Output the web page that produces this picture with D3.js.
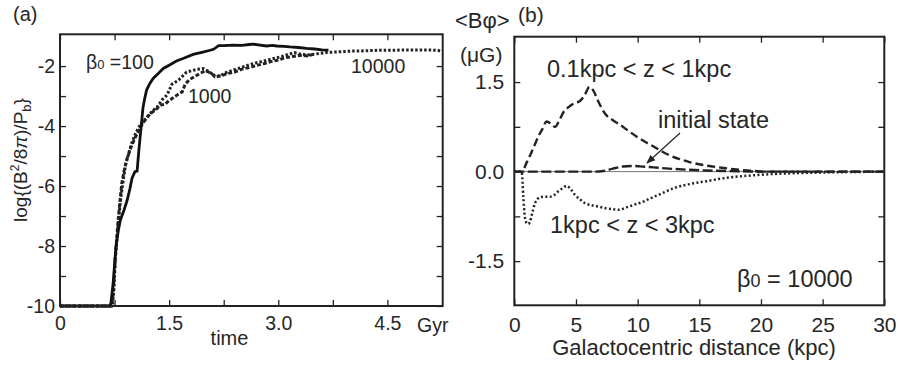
<!DOCTYPE html>
<html>
<head>
<meta charset="utf-8">
<script src="https://cdn.jsdelivr.net/npm/d3@7"></script>
<style>
  html, body { margin: 0; padding: 0; background: #fff; }
  svg { display: block; }
  text { font-family: "Liberation Sans", Arial, Helvetica, sans-serif; fill: #262626; }
</style>
</head>
<body>
<svg id="chart" width="898" height="370"></svg>
<script>
// ---------- Panel (a): growth of magnetic energy ----------
const timeMajorTicks = [0, 1.5, 3.0, 4.5];
const timeMinorTicks = [0.75, 2.25, 3.75];
const logMajorTicks = [-10, -8, -6, -4, -2];
const logMinorTicks = [-9, -7, -5, -3];

// beta0 = 100 (solid)
const timeB100 = [0, 0.68, 0.70, 0.73, 0.77, 0.80, 0.83, 0.88, 0.92, 0.96, 0.99, 1.03, 1.06, 1.08, 1.10, 1.12, 1.14, 1.16, 1.19, 1.23, 1.28, 1.35, 1.42, 1.5, 1.6, 1.7, 1.83, 1.95, 2.05, 2.11, 2.18, 2.25, 2.38, 2.5, 2.6, 2.66, 2.75, 2.84, 2.92, 2.98, 3.08, 3.16, 3.28, 3.39, 3.5, 3.6, 3.69];
const logB100 = [-10, -10, -9.9, -9.25, -8.0, -7.5, -7.13, -6.8, -6.5, -6.1, -5.74, -5.52, -5.5, -4.91, -4.4, -3.91, -3.4, -3.13, -2.8, -2.6, -2.41, -2.25, -2.08, -1.97, -1.83, -1.74, -1.61, -1.54, -1.48, -1.44, -1.32, -1.32, -1.3, -1.31, -1.28, -1.27, -1.3, -1.33, -1.31, -1.33, -1.34, -1.36, -1.38, -1.41, -1.43, -1.46, -1.47];

// beta0 = 1000 (dashed)
const timeB1000 = [0, 0.71, 0.73, 0.76, 0.79, 0.82, 0.85, 0.88, 0.92, 0.97, 1.02, 1.08, 1.14, 1.2, 1.26, 1.32, 1.38, 1.44, 1.5, 1.56, 1.62, 1.68, 1.72, 1.78, 1.85, 1.92, 2.0, 2.08, 2.15, 2.22, 2.3, 2.4, 2.5, 2.6, 2.7, 2.8, 2.9, 3.0, 3.1, 3.2, 3.3, 3.4, 3.5];
const logB1000 = [-10, -10, -9.6, -8.4, -7.4, -6.6, -5.9, -5.5, -5.1, -4.75, -4.45, -4.15, -3.9, -3.7, -3.55, -3.45, -3.3, -3.28, -3.15, -3.05, -2.95, -2.86, -2.6, -2.45, -2.35, -2.25, -2.15, -2.25, -2.35, -2.32, -2.25, -2.2, -2.1, -2.05, -1.98, -1.92, -1.85, -1.8, -1.72, -1.68, -1.64, -1.66, -1.6];

// beta0 = 10000 (dotted)
const timeB10000 = [0, 0.72, 0.74, 0.76, 0.79, 0.81, 0.84, 0.87, 0.9, 0.94, 0.98, 1.03, 1.08, 1.14, 1.2, 1.27, 1.34, 1.4, 1.47, 1.54, 1.63, 1.74, 1.88, 1.97, 2.06, 2.13, 2.2, 2.28, 2.36, 2.45, 2.55, 2.65, 2.75, 2.85, 2.95, 3.05, 3.15, 3.22, 3.3, 3.4, 3.5, 3.65, 3.8, 4.0, 4.2, 4.4, 4.6, 4.8, 5.0, 5.15, 5.26];
const logB10000 = [-10, -10, -9.5, -8.4, -7.6, -7.0, -6.3, -5.8, -5.3, -4.95, -4.6, -4.3, -4.05, -3.85, -3.7, -3.5, -3.35, -3.13, -2.97, -2.6, -2.47, -2.2, -2.11, -2.08, -2.2, -2.36, -2.33, -2.22, -2.15, -2.08, -2.0, -1.92, -1.86, -1.8, -1.74, -1.68, -1.6, -1.55, -1.6, -1.63, -1.6, -1.55, -1.53, -1.5, -1.49, -1.47, -1.47, -1.46, -1.46, -1.47, -1.5];

// ---------- Panel (b): azimuthal field profile ----------
const distMajorTicks = [0, 5, 10, 15, 20, 25, 30];
const bphiMajorTicks = [-1.5, 0.0, 1.5];
const bphiMinorTicks = [-0.75, 0.75];

// 0.1 kpc < z < 1 kpc (dashed)
const distLow = [0, 0.6, 1.0, 1.3, 1.6, 1.95, 2.3, 2.6, 3.0, 3.3, 3.7, 4.0, 4.4, 4.9, 5.3, 5.7, 6.1, 6.4, 6.8, 7.4, 8.0, 8.6, 9.2, 9.9, 10.6, 11.3, 12.4, 13.4, 14.2, 15.6, 17.0, 18.3, 19.5, 20.2, 22, 25, 30];
const bphiLow = [0, 0, 0.15, 0.28, 0.42, 0.59, 0.72, 0.84, 0.8, 0.75, 0.88, 1.0, 1.08, 1.15, 1.18, 1.28, 1.42, 1.36, 1.18, 0.96, 0.86, 0.78, 0.69, 0.59, 0.5, 0.42, 0.29, 0.21, 0.16, 0.1, 0.06, 0.03, 0.01, 0, 0, 0, 0];

// initial state (long dashes)
const distInit = [0, 6.5, 7.2, 8.0, 8.8, 9.5, 10.2, 11.3, 12.9, 14.2, 15.6, 17.5, 19.1, 20, 30];
const bphiInit = [0, 0, 0.01, 0.05, 0.085, 0.095, 0.088, 0.07, 0.045, 0.03, 0.018, 0.008, 0.002, 0, 0];

// 1 kpc < z < 3 kpc (dotted)
const distHigh = [0, 0.6, 0.73, 0.85, 1.0, 1.15, 1.27, 1.45, 1.68, 2.08, 2.5, 2.9, 3.2, 3.57, 3.9, 4.25, 4.6, 4.92, 5.3, 5.73, 6.2, 6.68, 7.3, 8.0, 8.5, 9.1, 9.8, 10.5, 11.0, 11.8, 12.9, 14.2, 15.6, 17, 18.3, 19.5, 21, 23, 25, 27.5, 30];
const bphiHigh = [0, 0, -0.42, -0.75, -0.86, -0.88, -0.84, -0.7, -0.53, -0.43, -0.42, -0.42, -0.4, -0.33, -0.28, -0.24, -0.3, -0.39, -0.46, -0.53, -0.56, -0.58, -0.61, -0.63, -0.64, -0.6, -0.55, -0.5, -0.45, -0.38, -0.28, -0.21, -0.16, -0.11, -0.08, -0.06, -0.04, -0.025, -0.015, -0.007, 0];

const svg = d3.select("#chart");
const zip = (xs, ys) => xs.map((x, i) => [x, ys[i]]);

// Frame with inward ticks on all four sides
function frame(g, x, y, xMajor, xMinor, yMajor, yMinor, xFmt, yFmt, fs, xPad, yPad) {
  const [x0, x1] = x.range();
  const [y0, y1] = y.range();
  const tl = 6;
  g.append("g").attr("transform", `translate(0,${y0})`)
    .call(d3.axisBottom(x).tickValues(xMajor).tickSize(-tl).tickPadding(xPad).tickFormat(xFmt))
    .call(a => a.select(".domain").remove())
    .call(a => a.selectAll("text").attr("font-size", fs).attr("font-family", null).attr("fill", "#262626"));
  g.append("g").attr("transform", `translate(0,${y0})`)
    .call(d3.axisBottom(x).tickValues(xMinor).tickSize(-tl).tickFormat(""))
    .call(a => a.select(".domain").remove());
  g.append("g").attr("transform", `translate(0,${y1})`)
    .call(d3.axisTop(x).tickValues(xMajor.concat(xMinor)).tickSize(-tl).tickFormat(""))
    .call(a => a.select(".domain").remove());
  g.append("g").attr("transform", `translate(${x0},0)`)
    .call(d3.axisLeft(y).tickValues(yMajor).tickSize(-tl).tickPadding(yPad).tickFormat(yFmt))
    .call(a => a.select(".domain").remove())
    .call(a => a.selectAll("text").attr("font-size", fs).attr("font-family", null).attr("fill", "#262626"));
  g.append("g").attr("transform", `translate(${x0},0)`)
    .call(d3.axisLeft(y).tickValues(yMinor).tickSize(-tl).tickFormat(""))
    .call(a => a.select(".domain").remove());
  g.append("g").attr("transform", `translate(${x1},0)`)
    .call(d3.axisRight(y).tickValues(yMajor.concat(yMinor)).tickSize(-tl).tickFormat(""))
    .call(a => a.select(".domain").remove());
  g.selectAll(".tick line").attr("stroke", "#222").attr("stroke-width", 1.3);
  g.append("rect").attr("x", x0).attr("y", y1).attr("width", x1 - x0).attr("height", y0 - y1)
    .attr("fill", "none").attr("stroke", "#222").attr("stroke-width", 2);
}

// ----- Panel (a) -----
const gA = svg.append("g");
const xA = d3.scaleLinear().domain([0, 5.26]).range([60, 442.7]);
const yA = d3.scaleLinear().domain([-10, -0.94]).range([306, 34.3]);
const lineA = d3.line().x(d => xA(d[0])).y(d => yA(d[1]));

gA.append("path").datum(zip(timeB10000, logB10000)).attr("d", lineA)
  .attr("fill", "none").attr("stroke", "#222").attr("stroke-width", 3).attr("stroke-dasharray", "2.5,2");
gA.append("path").datum(zip(timeB1000, logB1000)).attr("d", lineA)
  .attr("fill", "none").attr("stroke", "#222").attr("stroke-width", 3).attr("stroke-dasharray", "4,2");
gA.append("path").datum(zip(timeB100, logB100)).attr("d", lineA)
  .attr("fill", "none").attr("stroke", "#111").attr("stroke-width", 2.8);

frame(gA, xA, yA, timeMajorTicks, timeMinorTicks, logMajorTicks, logMinorTicks,
  d => d === 0 ? "0" : d.toFixed(1), d => d3.format("d")(d).replace("−", "-"), 19.5, 10, 5);

gA.append("text").attr("x", 13).attr("y", 21).attr("font-size", 20).text("(a)");
const b100 = gA.append("text").attr("x", 86).attr("y", 69).attr("font-size", 19.5);
b100.append("tspan").text("β");
b100.append("tspan").attr("font-size", 13).text("0");
b100.append("tspan").text(" =100");
gA.append("text").attr("x", 188).attr("y", 103).attr("font-size", 19.5).text("1000");
gA.append("text").attr("x", 351).attr("y", 73).attr("font-size", 19.5).text("10000");
gA.append("text").attr("x", 229.5).attr("y", 345).attr("font-size", 20).attr("text-anchor", "middle").text("time");
gA.append("text").attr("x", 417).attr("y", 332).attr("font-size", 19.5).text("Gyr");

const yLab = gA.append("text").attr("transform", "translate(27,160) rotate(-90)")
  .attr("text-anchor", "middle").attr("font-size", 19);
yLab.append("tspan").text("log{(B");
yLab.append("tspan").attr("font-size", 12).attr("dy", -8).text("2");
yLab.append("tspan").attr("dy", 8).text("/8");
yLab.append("tspan").attr("font-style", "italic").text("π");
yLab.append("tspan").text(")/P");
yLab.append("tspan").attr("font-size", 13).attr("dy", 4).text("b");
yLab.append("tspan").attr("dy", -4).text("}");

// ----- Panel (b) -----
const gB = svg.append("g");
const xB = d3.scaleLinear().domain([0, 30]).range([514.3, 884.3]);
const yB = d3.scaleLinear().domain([-2.24, 2.26]).range([305.3, 36.7]);
const lineB = d3.line().x(d => xB(d[0])).y(d => yB(d[1])).curve(d3.curveMonotoneX);

gB.append("line").attr("x1", xB(0)).attr("x2", xB(30)).attr("y1", yB(0)).attr("y2", yB(0))
  .attr("stroke", "#777").attr("stroke-width", 1);
gB.append("path").datum(zip(distHigh, bphiHigh)).attr("d", lineB)
  .attr("fill", "none").attr("stroke", "#222").attr("stroke-width", 2.5).attr("stroke-dasharray", "2,2.4");
gB.append("path").datum(zip(distInit, bphiInit)).attr("d", lineB)
  .attr("fill", "none").attr("stroke", "#222").attr("stroke-width", 2.4).attr("stroke-dasharray", "10,3.5");
gB.append("path").datum(zip(distLow, bphiLow)).attr("d", lineB)
  .attr("fill", "none").attr("stroke", "#222").attr("stroke-width", 2.4).attr("stroke-dasharray", "8,4");

frame(gB, xB, yB, distMajorTicks, [], bphiMajorTicks, bphiMinorTicks,
  d => String(d), d => d.toFixed(1).replace("−", "-"), 21, 12, 10);

gB.append("text").attr("x", 455).attr("y", 28).attr("font-size", 22).text("<Bφ>");
gB.append("text").attr("x", 518).attr("y", 22).attr("font-size", 21).text("(b)");
gB.append("text").attr("x", 460).attr("y", 62).attr("font-size", 21).text("(μG)");
gB.append("text").attr("x", 547).attr("y", 77).attr("font-size", 23.5).text("0.1kpc < z < 1kpc");
gB.append("text").attr("x", 658).attr("y", 128).attr("font-size", 23.5).text("initial state");
gB.append("text").attr("x", 550).attr("y", 233).attr("font-size", 23.5).text("1kpc < z < 3kpc");
const b0 = gB.append("text").attr("x", 737).attr("y", 287).attr("font-size", 23.5);
b0.append("tspan").text("β");
b0.append("tspan").attr("font-size", 18).text("0");
b0.append("tspan").text(" = 10000");
gB.append("text").attr("x", 694).attr("y", 355).attr("font-size", 22).attr("text-anchor", "middle")
  .text("Galactocentric distance (kpc)");

// pointer from the "initial state" label to its curve
svg.append("defs").append("marker").attr("id", "head").attr("viewBox", "0 0 10 10")
  .attr("refX", 9).attr("refY", 5).attr("markerWidth", 9).attr("markerHeight", 9)
  .attr("markerUnits", "userSpaceOnUse").attr("orient", "auto")
  .append("path").attr("d", "M0,1 L10,5 L0,9 Z").attr("fill", "#222");
gB.append("line").attr("x1", 680).attr("y1", 133).attr("x2", 647).attr("y2", 163)
  .attr("stroke", "#222").attr("stroke-width", 1.2).attr("marker-end", "url(#head)");
</script>
</body>
</html>
